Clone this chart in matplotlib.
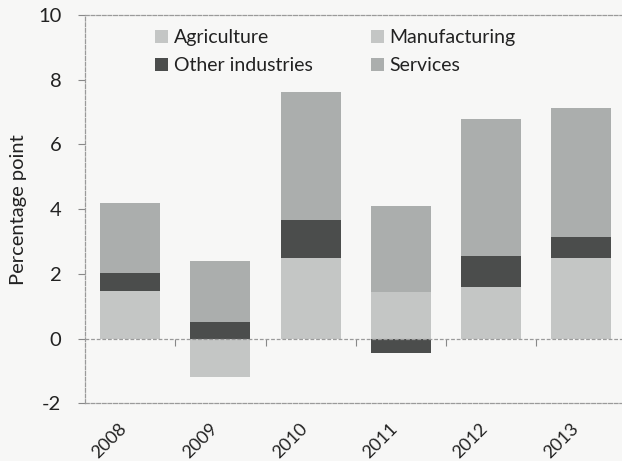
import numpy as np
import matplotlib
matplotlib.use("Agg")
import matplotlib.pyplot as plt
from matplotlib.patches import Patch

plt.rcParams['font.family'] = ['Lato', 'DejaVu Sans']
plt.rcParams['axes.unicode_minus'] = False

years = ['2008', '2009', '2010', '2011', '2012', '2013']
agriculture = [0.45, 0.00, 0.00, 0.30, 0.30, 0.10]
manufacturing = [1.02, -1.18, 2.48, 1.13, 1.28, 2.40]
other_industries = [0.57, 0.52, 1.18, -0.44, 0.97, 0.65]
services = [2.16, 1.89, 3.97, 2.68, 4.24, 3.97]

series = [
    ('Agriculture', agriculture, '#c4c6c5'),
    ('Manufacturing', manufacturing, '#c4c6c5'),
    ('Other industries', other_industries, '#4b4d4c'),
    ('Services', services, '#abaead'),
]

bg = '#f7f7f6'
fig = plt.figure(figsize=(6.22, 4.61), dpi=100, facecolor=bg)
ax = fig.add_axes([85 / 622, 1 - 403.3 / 461, 541.5 / 622, 388.3 / 461])
ax.set_facecolor(bg)

x = np.arange(len(years))
pos_base = np.zeros(len(years))
neg_base = np.zeros(len(years))
for name, vals, color in series:
    v = np.asarray(vals, dtype=float)
    base = np.where(v >= 0, pos_base, neg_base)
    ax.bar(x, v, bottom=base, width=0.665, color=color, linewidth=0, zorder=2)
    pos_base += np.where(v >= 0, v, 0)
    neg_base += np.where(v < 0, v, 0)

ax.set_xlim(-0.5, len(years) - 0.5)
ax.set_ylim(-2, 10)
ax.set_yticks(np.arange(-2, 11, 2))
ax.set_xticks(x)
ax.set_xticklabels(years, rotation=45, ha='right', rotation_mode='default')
ax.tick_params(axis='x', length=0, pad=12, labelsize=13, colors='#222222')
ax.tick_params(axis='y', length=5, width=0.8, color='#888888', pad=12,
               labelsize=14.5, labelcolor='#222222')

line_kw = dict(color='#9a9a9a', linewidth=0.9, linestyle=(0, (3, 1.5)))
for side in ['left', 'top', 'bottom']:
    ax.spines[side].set_color('#9a9a9a')
    ax.spines[side].set_linewidth(0.9)
    ax.spines[side].set_linestyle((0, (3, 1.5)))
ax.spines['right'].set_visible(False)
ax.axhline(0, zorder=3, **line_kw)

# category separators hanging from the zero line
sep = ax.secondary_xaxis(0, transform=ax.transData)
sep.set_xticks(x[:-1] + 0.5)
sep.set_xticklabels([])
sep.tick_params(axis='x', direction='out', length=5, width=0.8, color='#888888')
sep.spines['bottom'].set_visible(False)

ax.set_ylabel('Percentage point', fontsize=14.5, color='#222222', labelpad=8)

order = [0, 2, 1, 3]
handles = [Patch(facecolor=series[i][2], edgecolor='none') for i in order]
labels = [series[i][0] for i in order]
ax.legend(handles, labels, ncol=2, loc='upper left', bbox_to_anchor=(0.112, 0.988),
          frameon=False, fontsize=14, handlelength=0.65, handleheight=0.65,
          handletextpad=0.3, columnspacing=3.0, labelspacing=0.55, borderpad=0,
          labelcolor='#222222')

fig.savefig('out.png', dpi=100, facecolor=bg)
